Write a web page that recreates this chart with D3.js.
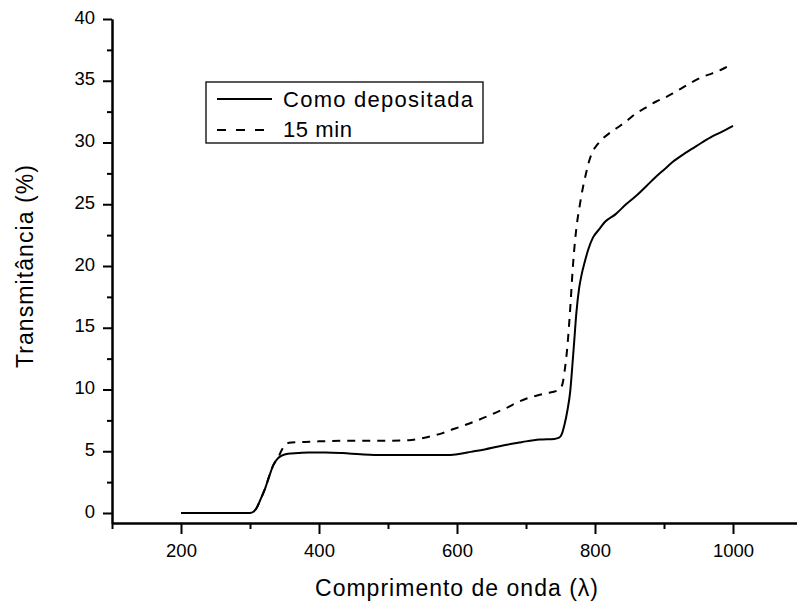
<html>
<script src='https://d3js.org/d3.v7.min.js'></script>
<style>
  body { margin: 0; background: #fff; }
  text { font-family: "Liberation Sans", Arial, sans-serif; fill: #000; }
</style>
<body onload='init()'>
<svg width=797 height=605></svg>

<script>
// wavelength (nm) and transmittance (%)
var wl_dep = [200, 250, 300, 305, 310, 316, 322, 328, 334, 340, 346, 355, 370, 385, 410, 434, 460, 480, 520, 560, 588, 605, 620, 640, 665, 690, 700, 720, 741, 748, 752, 756, 760, 764, 767, 770, 773, 777, 781, 785, 790, 797, 805, 815, 830, 845, 861, 875, 888, 900, 912, 927, 941, 955, 970, 985, 1000];
var t_dep = [0, 0, 0, 0.1, 0.45, 1.2, 2.0, 3.0, 3.9, 4.4, 4.65, 4.8, 4.85, 4.9, 4.9, 4.85, 4.75, 4.7, 4.7, 4.7, 4.7, 4.8, 4.95, 5.15, 5.45, 5.7, 5.8, 5.95, 6.0, 6.1, 6.4, 7.2, 8.3, 9.8, 11.8, 14.0, 16.2, 18.2, 19.4, 20.3, 21.3, 22.3, 22.9, 23.6, 24.2, 25.0, 25.75, 26.5, 27.2, 27.8, 28.4, 29.0, 29.5, 30.0, 30.5, 30.9, 31.35];

var wl_15 = [200, 250, 300, 305, 310, 316, 322, 328, 334, 340, 346, 352, 360, 380, 400, 450, 500, 530, 549, 565, 578, 590, 603, 618, 632, 647, 661, 675, 685, 700, 715, 730, 745, 752, 756, 760, 764, 768, 771, 774, 777, 780, 783, 787, 791, 796, 803, 811, 822, 835, 847, 859, 873, 888, 900, 912, 927, 941, 955, 970, 985, 1000];
var t_15 = [0, 0, 0, 0.1, 0.45, 1.2, 2.0, 3.0, 3.9, 4.4, 5.1, 5.6, 5.7, 5.75, 5.8, 5.85, 5.85, 5.9, 6.05, 6.25, 6.45, 6.7, 6.95, 7.25, 7.55, 7.9, 8.25, 8.6, 8.9, 9.25, 9.5, 9.7, 9.9, 10.3, 11.5, 13.5, 16.5, 20.0, 22.0, 23.5, 24.6, 25.6, 26.5, 27.5, 28.4, 29.2, 29.8, 30.3, 30.8, 31.3, 31.8, 32.35, 32.8, 33.3, 33.6, 33.95, 34.45, 34.9, 35.3, 35.6, 35.95, 36.4];

var series_names = ["Como depositada", "15 min"];
var x_major = [200, 400, 600, 800, 1000];
var x_minor = [100, 300, 500, 700, 900, 1100];
var y_major = [0, 5, 10, 15, 20, 25, 30, 35, 40];
var y_minor = [2.5, 7.5, 12.5, 17.5, 22.5, 27.5, 32.5, 37.5];

function init() {
  var svg = d3.select("svg");

  var x = d3.scaleLinear().domain([100, 1100]).range([112, 802]);
  var y = d3.scaleLinear().domain([-0.81, 40]).range([523, 19]);

  var line = d3.line()
    .x(function(d) { return x(d[0]); })
    .y(function(d) { return y(d[1]); })
    .curve(d3.curveMonotoneX);

  var dep = d3.zip(wl_dep, t_dep);
  var min15 = d3.zip(wl_15, t_15);

  svg.append("path")
    .datum(min15)
    .attr("d", line)
    .attr("fill", "none")
    .attr("stroke", "#000")
    .attr("stroke-width", 2)
    .attr("stroke-dasharray", "8,7");

  svg.append("path")
    .datum(dep)
    .attr("d", line)
    .attr("fill", "none")
    .attr("stroke", "#000")
    .attr("stroke-width", 2);

  // axes: minor ticks first, then major ticks with labels
  svg.append("g")
    .attr("transform", "translate(0,523)")
    .call(d3.axisBottom(x).tickValues(x_minor).tickSize(6).tickSizeOuter(0).tickFormat(""));
  svg.append("g")
    .attr("class", "xmaj")
    .attr("transform", "translate(0,523)")
    .call(d3.axisBottom(x).tickValues(x_major).tickSize(11).tickSizeOuter(0).tickPadding(10).tickFormat(d3.format("d")));

  svg.append("g")
    .attr("transform", "translate(112,0)")
    .call(d3.axisLeft(y).tickValues(y_minor).tickSize(5).tickSizeOuter(0).tickFormat(""));
  svg.append("g")
    .attr("class", "ymaj")
    .attr("transform", "translate(112,0)")
    .call(d3.axisLeft(y).tickValues(y_major).tickSize(9).tickSizeOuter(0).tickPadding(8));

  svg.selectAll(".domain, .tick line")
    .attr("stroke", "#000")
    .attr("stroke-width", 2);
  svg.selectAll(".tick text")
    .attr("font-size", 18.5)
    .attr("font-family", "'Liberation Sans', Arial, sans-serif")
    .attr("fill", "#000");
  svg.selectAll(".ymaj .tick text").attr("dy", "0.22em");

  // axis titles
  svg.append("text")
    .attr("x", 315)
    .attr("y", 596)
    .attr("font-size", 23)
    .attr("textLength", 283)
    .attr("lengthAdjust", "spacing")
    .text("Comprimento de onda (\u03bb)");

  svg.append("text")
    .attr("transform", "translate(33,368) rotate(-90)")
    .attr("font-size", 23)
    .attr("textLength", 203)
    .attr("lengthAdjust", "spacing")
    .text("Transmit\u00e2ncia (%)");

  // legend
  var lg = svg.append("g");
  lg.append("rect")
    .attr("x", 206).attr("y", 82)
    .attr("width", 277).attr("height", 61)
    .attr("fill", "#fff")
    .attr("stroke", "#000")
    .attr("stroke-width", 1.3);

  lg.append("line")
    .attr("x1", 217).attr("x2", 272)
    .attr("y1", 99).attr("y2", 99)
    .attr("stroke", "#000").attr("stroke-width", 2);
  lg.append("line")
    .attr("x1", 217).attr("x2", 272)
    .attr("y1", 130).attr("y2", 130)
    .attr("stroke", "#000").attr("stroke-width", 2)
    .attr("stroke-dasharray", "9,10");

  lg.append("text")
    .attr("x", 283).attr("y", 106.5)
    .attr("font-size", 22)
    .attr("textLength", 190)
    .attr("lengthAdjust", "spacing")
    .text(series_names[0]);
  lg.append("text")
    .attr("x", 283).attr("y", 137)
    .attr("font-size", 22)
    .attr("textLength", 69)
    .attr("lengthAdjust", "spacing")
    .text(series_names[1]);
}
</script>
</body>
</html>
